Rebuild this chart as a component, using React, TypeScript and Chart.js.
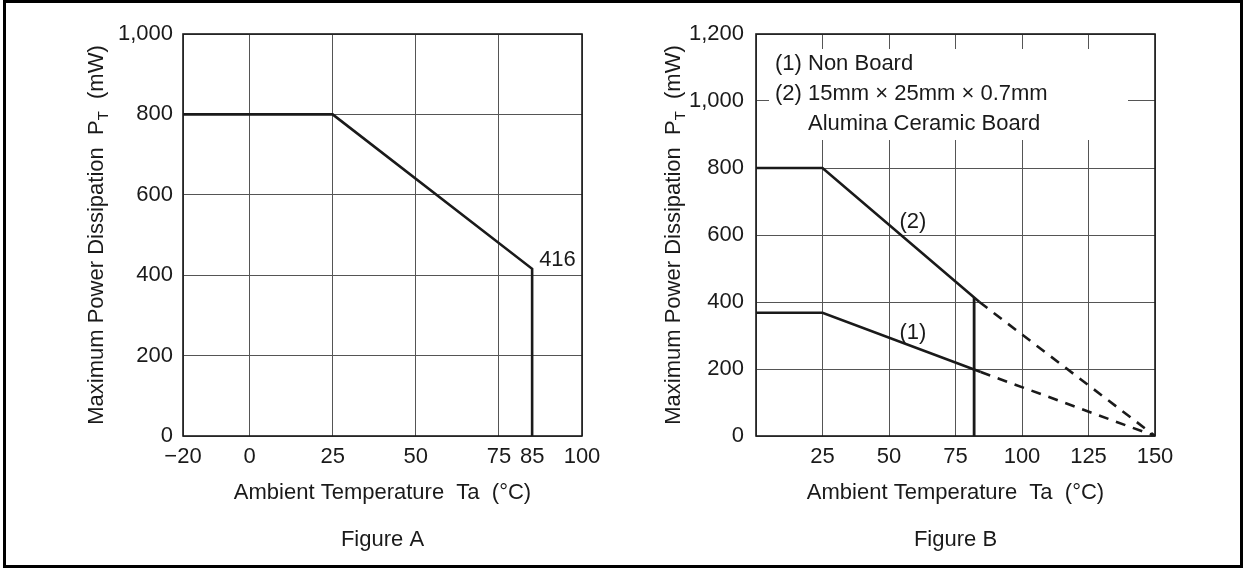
import React, { useEffect, useRef } from 'react';
import { Chart, registerables } from 'chart.js';

Chart.register(...registerables);

const FONT = '"Liberation Sans", Arial, Helvetica, sans-serif';
const INK = '#1a1a1a';
const GRID = '#555555';

// ---------- Figure A data ----------
const tempA = [-20, 25, 85, 85];
const powerA = [800, 800, 416, 0];
const xTicksA = [-20, 0, 25, 50, 75, 85, 100];
const xTickLabelsA = ['\u221220', '0', '25', '50', '75', '85', '100'];
const xNoGridA = [85];
const yTicksA = [0, 200, 400, 600, 800, 1000];
const noteA = { text: '416', x: 85, y: 416 };

// ---------- Figure B data ----------
const xTicksB = [0, 25, 50, 75, 100, 125, 150];
const xTickLabelsB = ['', '25', '50', '75', '100', '125', '150'];
const yTicksB = [0, 200, 400, 600, 800, 1000, 1200];
const tempB1 = [0, 25, 84.5];
const powerB1 = [368, 368, 191];
const tempB1Ext = [84.5, 150];
const powerB1Ext = [191, 0];
const tempB2 = [0, 25, 84];
const powerB2 = [800, 800, 400];
const tempB2Ext = [84, 150];
const powerB2Ext = [400, 0];
const tempBCut = [82, 82];
const powerBCut = [413, 0];
const notesB = [
  { text: '(2)', x: 59, y: 638 },
  { text: '(1)', x: 59, y: 307 },
];
const legendB = ['(1) Non Board', '(2) 15mm \u00d7 25mm \u00d7 0.7mm', 'Alumina Ceramic Board'];

const xTitle = 'Ambient Temperature  Ta  (\u00b0C)';
const yTitleParts = ['Maximum Power Dissipation  P', 'T', '  (mW)'];

const pts = (xs: number[], ys: number[]) => xs.map((x, i) => ({ x, y: ys[i] }));
const fmt = (v: number) => v.toLocaleString('en-US');

function drawYTitle(ctx: CanvasRenderingContext2D, xBase: number, cy: number) {
  const sizes = [22, 15, 22];
  const dys = [0, 5, 0];
  ctx.save();
  ctx.fillStyle = INK;
  ctx.textBaseline = 'alphabetic';
  ctx.textAlign = 'left';
  const widths = yTitleParts.map((t, i) => {
    ctx.font = `${sizes[i]}px ${FONT}`;
    return ctx.measureText(t).width;
  });
  const total = widths.reduce((a, b) => a + b, 0);
  ctx.translate(xBase, cy);
  ctx.rotate(-Math.PI / 2);
  let x = -total / 2;
  yTitleParts.forEach((t, i) => {
    ctx.font = `${sizes[i]}px ${FONT}`;
    ctx.fillText(t, x, dys[i]);
    x += widths[i];
  });
  ctx.restore();
}

function drawCommon(chart: Chart, caption: string, yTitleX: number) {
  const ctx = chart.ctx;
  const a = chart.chartArea;
  ctx.save();
  ctx.strokeStyle = INK;
  ctx.lineWidth = 1.6;
  ctx.strokeRect(a.left, a.top, a.right - a.left, a.bottom - a.top);
  ctx.fillStyle = INK;
  ctx.font = `22px ${FONT}`;
  ctx.textAlign = 'center';
  ctx.textBaseline = 'middle';
  const cx = (a.left + a.right) / 2;
  ctx.fillText(xTitle, cx, 493);
  ctx.fillText(caption, cx, 540);
  ctx.restore();
  drawYTitle(ctx, yTitleX, (a.top + a.bottom) / 2);
}

function lineDs(data: { x: number; y: number }[], dashed = false, width = 2.6) {
  return {
    data,
    showLine: true,
    borderColor: INK,
    backgroundColor: INK,
    borderWidth: width,
    pointRadius: 0,
    borderDash: dashed ? [10, 8] : [],
    fill: false,
    tension: 0,
  };
}

function xScale(min: number, max: number, ticks: number[], labels: string[], noGrid: number[], height: number) {
  return {
    type: 'linear' as const,
    min,
    max,
    afterBuildTicks: (s: any) => {
      s.ticks = ticks.map((v) => ({ value: v }));
    },
    afterFit: (s: any) => {
      s.height = height;
    },
    ticks: {
      autoSkip: false,
      maxRotation: 0,
      padding: 8,
      color: INK,
      font: { family: FONT, size: 22 },
      callback: (v: any) => {
        const i = ticks.indexOf(Number(v));
        return i >= 0 ? labels[i] : '';
      },
    },
    grid: {
      drawTicks: false,
      lineWidth: 1,
      color: (c: any) => (c.tick && noGrid.includes(c.tick.value) ? 'rgba(0,0,0,0)' : GRID),
    },
    border: { display: false },
  };
}

function yScale(ticks: number[], width: number, pad: number) {
  return {
    type: 'linear' as const,
    min: ticks[0],
    max: ticks[ticks.length - 1],
    afterBuildTicks: (s: any) => {
      s.ticks = ticks.map((v) => ({ value: v }));
    },
    afterFit: (s: any) => {
      s.width = width;
    },
    ticks: {
      padding: pad,
      color: INK,
      font: { family: FONT, size: 22 },
      callback: (v: any) => fmt(Number(v)),
    },
    grid: { drawTicks: false, lineWidth: 1, color: GRID },
    border: { display: false },
  };
}

export default function App() {
  const refA = useRef<HTMLCanvasElement>(null);
  const refB = useRef<HTMLCanvasElement>(null);

  useEffect(() => {
    document.body.style.margin = '0';
    const chartA = new Chart(refA.current!, {
      type: 'scatter',
      data: { datasets: [lineDs(pts(tempA, powerA)) as any] },
      options: {
        animation: false,
        responsive: false,
        devicePixelRatio: 1,
        layout: { padding: { left: 0, top: 34, right: 38, bottom: 0 } },
        plugins: { legend: { display: false }, tooltip: { enabled: false } },
        scales: {
          x: xScale(-20, 100, xTicksA, xTickLabelsA, xNoGridA, 133) as any,
          y: yScale(yTicksA, 183, 10) as any,
        },
      },
      plugins: [
        {
          id: 'figA',
          afterDraw(chart: Chart) {
            drawCommon(chart, 'Figure A', 103);
            const ctx = chart.ctx;
            const xs = chart.scales.x;
            const ys = chart.scales.y;
            ctx.save();
            ctx.fillStyle = INK;
            ctx.font = `22px ${FONT}`;
            ctx.textAlign = 'left';
            ctx.textBaseline = 'middle';
            ctx.fillText(noteA.text, xs.getPixelForValue(noteA.x) + 7, ys.getPixelForValue(noteA.y) - 9);
            ctx.restore();
          },
        },
      ],
    });

    const chartB = new Chart(refB.current!, {
      type: 'scatter',
      data: {
        datasets: [
          lineDs(pts(tempB2, powerB2)) as any,
          lineDs(pts(tempB2Ext, powerB2Ext), true) as any,
          lineDs(pts(tempB1, powerB1)) as any,
          lineDs(pts(tempB1Ext, powerB1Ext), true) as any,
          lineDs(pts(tempBCut, powerBCut), false, 2.8) as any,
        ],
      },
      options: {
        animation: false,
        responsive: false,
        devicePixelRatio: 1,
        layout: { padding: { left: 0, top: 34, right: 92, bottom: 0 } },
        plugins: { legend: { display: false }, tooltip: { enabled: false } },
        scales: {
          x: xScale(0, 150, xTicksB, xTickLabelsB, [], 133) as any,
          y: yScale(yTicksB, 136, 12) as any,
        },
      },
      plugins: [
        {
          id: 'figB',
          beforeDatasetsDraw(chart: Chart) {
            const ctx = chart.ctx;
            const a = chart.chartArea;
            ctx.save();
            ctx.fillStyle = '#ffffff';
            ctx.fillRect(a.left + 13, a.top + 15, 359, 91);
            ctx.restore();
          },
          afterDraw(chart: Chart) {
            drawCommon(chart, 'Figure B', 60);
            const ctx = chart.ctx;
            const a = chart.chartArea;
            const xs = chart.scales.x;
            const ys = chart.scales.y;
            ctx.save();
            ctx.fillStyle = INK;
            ctx.font = `22px ${FONT}`;
            ctx.textBaseline = 'middle';
            ctx.textAlign = 'left';
            ctx.fillText(legendB[0], a.left + 19, a.top + 30);
            ctx.fillText(legendB[1], a.left + 19, a.top + 60);
            ctx.fillText(legendB[2], a.left + 52, a.top + 90);
            ctx.textAlign = 'center';
            notesB.forEach((n) => {
              ctx.fillText(n.text, xs.getPixelForValue(n.x), ys.getPixelForValue(n.y));
            });
            ctx.restore();
          },
        },
      ],
    });

    return () => {
      chartA.destroy();
      chartB.destroy();
    };
  }, []);

  return (
    <div style={{ position: 'relative', width: 1247, height: 569, background: '#fff', overflow: 'hidden' }}>
      <canvas
        ref={refA}
        width={620}
        height={569}
        style={{ position: 'absolute', left: 0, top: 0, width: 620, height: 569 }}
      />
      <canvas
        ref={refB}
        width={627}
        height={569}
        style={{ position: 'absolute', left: 620, top: 0, width: 627, height: 569 }}
      />
      <div
        style={{
          position: 'absolute',
          left: 3,
          top: 0,
          width: 1240,
          height: 568,
          boxSizing: 'border-box',
          border: '3px solid #000',
          pointerEvents: 'none',
        }}
      />
    </div>
  );
}
